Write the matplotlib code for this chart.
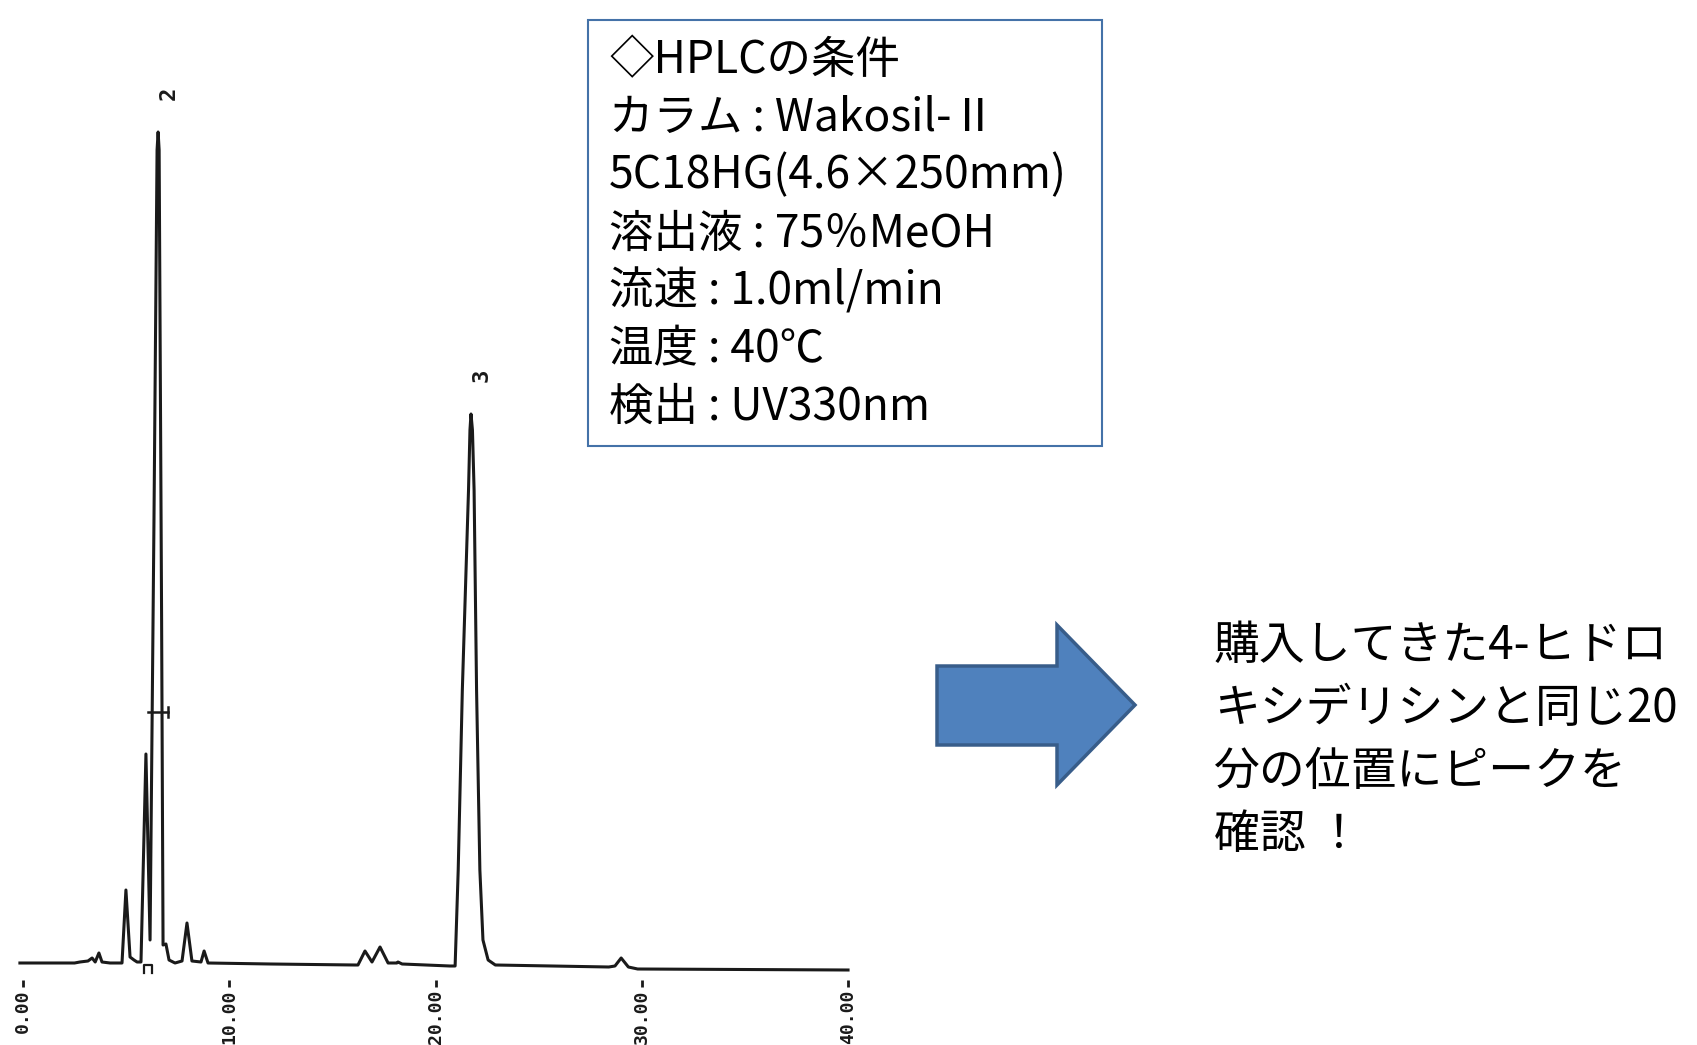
import matplotlib
matplotlib.use('Agg')
import matplotlib.pyplot as plt
from matplotlib.patches import Polygon, Rectangle

# recorder trace: retention time (min) and detector signal at each vertex
trace_time = [-0.15, 2.50, 2.76, 3.15, 3.35, 3.50, 3.68, 3.83, 4.22,
              4.80, 4.99, 5.19, 5.38, 5.53,
              5.72, 5.96, 6.16,
              6.35, 6.50, 6.55, 6.60, 6.72, 6.79, 6.93, 7.08, 7.37,
              7.71, 7.95, 8.19,
              8.63, 8.78, 8.97,
              12.0, 16.10,
              16.24, 16.58, 16.92, 17.31, 17.70, 18.13, 18.18, 18.38,
              20.70, 20.95, 21.10, 21.30, 21.60, 21.67, 21.72, 21.79, 21.87,
              21.99, 22.15, 22.30, 22.55, 22.90,
              28.40, 28.70, 29.00, 29.35, 29.80, 40.00]
trace_signal = [0.7, 0.7, 0.8, 0.9, 1.2, 0.8, 1.7, 0.8, 0.7,
                0.7, 8.0, 1.3, 1.0, 0.8,
                0.8, 21.6, 3.0,
                45.0, 82.0, 83.8, 82.0, 35.0, 2.5, 2.6, 1.0, 0.7,
                0.9, 4.7, 0.9,
                0.8, 1.9, 0.7,
                0.6, 0.5,
                0.5, 1.9, 0.8, 2.3, 0.7, 0.7, 0.8, 0.6,
                0.4, 0.4, 10.0, 28.0, 48.0, 54.0, 55.6, 54.0, 48.0,
                28.0, 10.0, 3.0, 1.0, 0.5,
                0.3, 0.4, 1.2, 0.3, 0.1, 0.0]

# numbered peaks
peak_numbers = ['2', '3']
peak_times = [6.55, 21.72]
peak_heights = [83.8, 55.6]

# integrator marks: window bar on peak 2, event ticks under the baseline
window_level = 25.8
window_span = [6.06, 7.03]
event_times = [5.87, 6.25]
event_top = 0.5
event_bottom = -0.3

time_ticks = [0, 10, 20, 30, 40]
tick_labels = ['0.00', '10.00', '20.00', '30.00', '40.00']

conditions = ['◇HPLCの条件',
              'カラム : Wakosil-Ⅱ',
              '5C18HG(4.6×250mm)',
              '溶出液 : 75％MeOH',
              '流速 : 1.0ml/min',
              '温度 : 40℃',
              '検出 : UV330nm']
comment = ['購入してきた4-ヒドロ',
           'キシデリシンと同じ20',
           '分の位置にピークを',
           '確認 ！']

W, H = 1697, 1045
JP = ['Noto Sans CJK JP', 'DejaVu Sans']
PRINTER = ['DejaVu Sans Mono']
INK = '#1a1a1a'


def fx(px):
    return px / W


def fy(py):
    return 1 - py / H


fig = plt.figure(figsize=(W / 100, H / 100), dpi=100)
fig.patch.set_facecolor('white')

# chromatogram
ax = fig.add_axes([fx(15), fy(980), 845 / W, 900 / H])
ax.plot(trace_time, trace_signal, color=INK, lw=2.2, solid_joinstyle='round')
ax.plot(window_span, [window_level, window_level], color=INK, lw=1.8)
ax.plot([window_span[1]] * 2, [window_level - 0.5, window_level + 0.5], color=INK, lw=1.8)
ax.plot([event_times[0], event_times[0], event_times[1], event_times[1]],
        [event_bottom, event_top, event_top, event_bottom], color=INK, lw=1.6)
for num, t, h in zip(peak_numbers, peak_times, peak_heights):
    ax.annotate(num, (t, h), xytext=(11, 39), textcoords='offset pixels',
                rotation=90, ha='center', va='center', fontsize=16,
                fontweight='bold', family=PRINTER, color=INK)

ax.set_xlim(-0.388, 40.58)
ax.set_ylim(-1, 89)
ax.set_xticks(time_ticks)
ax.set_xticklabels(tick_labels, rotation=90, fontsize=13, fontweight='bold',
                   family=PRINTER, color=INK)
ax.tick_params(axis='x', length=5, width=2.0, pad=2, color=INK)
ax.set_yticks([])
for s in ax.spines.values():
    s.set_visible(False)
ax.patch.set_alpha(0)

# conditions box
fig.add_artist(Rectangle((fx(588), fy(446)), (1102 - 588) / W, (446 - 20) / H,
                         transform=fig.transFigure, fill=False,
                         edgecolor='#4472A8', lw=1.5))
for i, line in enumerate(conditions):
    fig.text(fx(609), fy(60 + i * 57.8), line, va='center', ha='left',
             fontsize=32, family=JP, color='black')

# block arrow
arrow_px = [(937, 666), (1057, 666), (1057, 625), (1135, 705),
            (1057, 785), (1057, 745), (937, 745)]
fig.add_artist(Polygon([(fx(x), fy(y)) for x, y in arrow_px], closed=True,
                       transform=fig.transFigure, facecolor='#4F81BD',
                       edgecolor='#385D8A', lw=2.5, joinstyle='miter'))

for i, line in enumerate(comment):
    fig.text(fx(1214), fy(646 + i * 63), line, va='center', ha='left',
             fontsize=33, family=JP, color='black')

fig.savefig('out.png', dpi=100, facecolor='white')
